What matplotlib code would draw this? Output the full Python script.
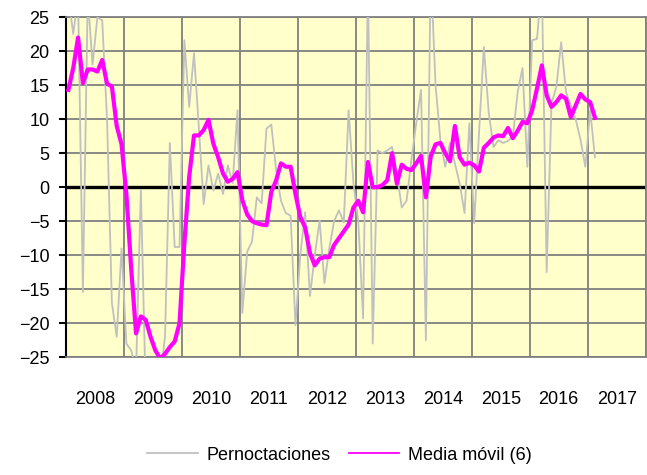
import matplotlib.pyplot as plt
from matplotlib.lines import Line2D
import numpy as np

plt.rcParams['font.family'] = ['Liberation Sans', 'DejaVu Sans']

# monthly series, Jan 2008 onwards
pernoctaciones = [28, 22.5, 28, -15.4, 28, 18, 25, 24.5, 10, -17,
                  -22, -9, -23, -24, -27, -0.4, -30, -33, -32, -28,
                  -22, 6.5, -8.8, -8.8, 21.6, 11.8, 19.7, 8.8, -2.5, 3.2,
                  -0.5, 2, -1, 3.2, 0.6, 11.3, -18.5, -9.5, -8, -1.5,
                  -2.4, 8.6, 9.2, 2.5, -2, -3.8, -4.2, -20.3, -10, -3.7,
                  -16, -10, -4.9, -14.1, -9, -5, -3.4, -5.2, 11.3, 0.6,
                  -5, -19.3, 30, -23, 5.4, 5, 5.4, 5.9, 2, -3,
                  -2, 4, 9.4, 14.3, -22.5, 32, 15, 6.9, 3, 6.5,
                  3.5, 0.5, -3.8, 9.4, -5.3, 8, 20.6, 11, 5.9, 6.9,
                  6.5, 6.8, 7.4, 14, 17.5, 3, 21.6, 21.8, 30, -12.5,
                  12.3, 14.7, 21.3, 14, 12, 10, 7, 3, 11.3, 4.4]
media_movil = [14.3, 17.5, 22, 15.3, 17.3, 17.3, 17.0, 18.7, 15.2, 14.8,
               9, 6.3, -1, -12, -21.5, -19, -19.5, -22, -24, -25.2,
               -24.5, -23.5, -22.7, -20, -8.3, 1.5, 7.6, 7.6, 8.4, 9.9,
               6.4, 4.4, 2, 0.8, 1.2, 2.2, -1.9, -4, -5, -5.3,
               -5.5, -5.6, -0.7, 1, 3.5, 3, 3, -1, -4.4, -5.9,
               -9.7, -11.5, -10.5, -10.3, -10.3, -8.5, -7.5, -6.5, -5.5, -3,
               -2, -3.7, 3.7, 0, 0, 0.3, 1, 5, 0.5, 3.3,
               2.7, 2.5, 3.5, 4.6, -1.5, 4.5, 6.3, 6.5, 5, 3.8,
               9, 4.4, 3.3, 3.6, 3.2, 2.3, 5.8, 6.5, 7.3, 7.6,
               7.5, 8.7, 7.2, 8.3, 9.6, 9.4, 11.3, 14.5, 17.9, 13.5,
               11.8, 12.5, 13.5, 13, 10.3, 12, 13.7, 12.9, 12.5, 10.2]
years = list(range(2008, 2018))

t = 2008 + (np.arange(len(pernoctaciones)) + 0.5) / 12

fig = plt.figure(figsize=(6.47, 4.75), dpi=100)
ax = fig.add_axes([0.102, 0.248, 0.896, 0.716])
ax.set_facecolor('#FFFFCC')

ax.plot(t, pernoctaciones, color='#C0C0C0', lw=1.3, zorder=3)
ax.plot(t, media_movil, color='#FF00FF', lw=3, zorder=4)
ax.axhline(0, color='black', lw=2.4, zorder=2)

ax.set_xlim(2008, 2018)
ax.set_ylim(-25, 25)
ax.set_yticks(np.arange(-25, 26, 5))
ax.set_xticks(np.arange(2008, 2019))
ax.set_xticklabels([])
ax.set_xticks([y + 0.5 for y in years], minor=True)
ax.set_xticklabels([str(y) for y in years], minor=True)
ax.tick_params(axis='x', which='both', length=0, labelsize=13, pad=24)
ax.tick_params(axis='y', length=5, width=1.5, labelsize=13, pad=7, color='black')
ax.grid(True, which='major', color='#808080', lw=1.3, zorder=1)

for side in ['top', 'right', 'bottom']:
    ax.spines[side].set_color('#808080')
    ax.spines[side].set_linewidth(1.3)
ax.spines['left'].set_color('black')
ax.spines['left'].set_linewidth(1.5)

handles = [Line2D([], [], color='#C0C0C0', lw=1.3),
           Line2D([], [], color='#FF00FF', lw=1.3)]
fig.legend(handles, ['Pernoctaciones', 'Media móvil (6)'], loc='center',
           bbox_to_anchor=(0.525, 0.042), ncol=2, frameon=False,
           fontsize=13, handlelength=2.8, columnspacing=1.0, handletextpad=0.5)

fig.savefig('out.png', dpi=100)
